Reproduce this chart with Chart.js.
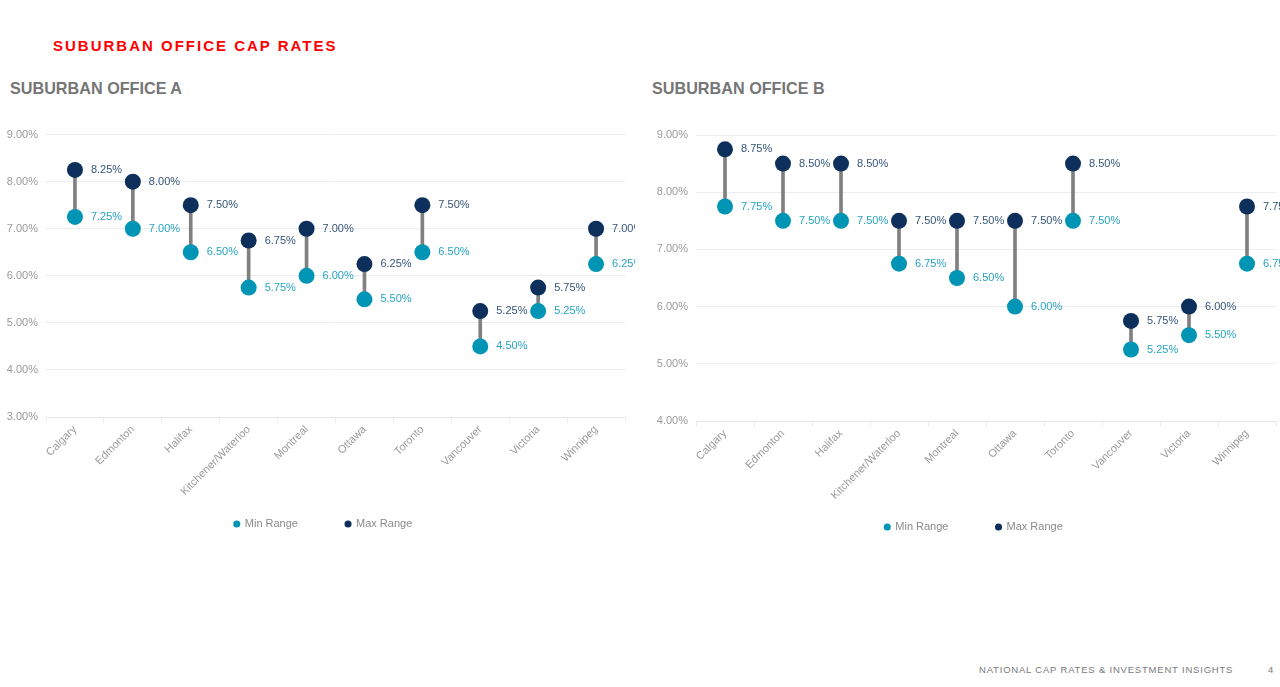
<!DOCTYPE html>
<html>
<head>
<meta charset="utf-8">
<script src="https://cdn.jsdelivr.net/npm/chart.js@4"></script>
<style>
  html, body { margin: 0; padding: 0; background: #fff; overflow: hidden; width: 1280px; height: 687px; }
  body { position: relative; font-family: "Liberation Sans", Arial, sans-serif; }
  .title { position: absolute; left: 53px; top: 37px; color: #ff0000; font-weight: bold; font-size: 15px; letter-spacing: 2px; }
  .sub { position: absolute; top: 79px; color: #767676; font-weight: bold; font-size: 16.2px; }
  .box { position: absolute; top: 120px; height: 440px; }
  .footer { position: absolute; top: 664px; left: 979px; color: #7a7a7a; font-size: 9.5px; letter-spacing: 0.8px; }
  .page { position: absolute; top: 664px; left: 1268px; color: #7a7a7a; font-size: 9.5px; }
</style>
</head>
<body>
<div class="title">SUBURBAN OFFICE CAP RATES</div>
<div class="sub" style="left:10px">SUBURBAN OFFICE A</div>
<div class="sub" style="left:652px">SUBURBAN OFFICE B</div>
<div class="box" style="left:0; width:635px"><canvas id="chartA"></canvas></div>
<div class="box" style="left:640px; width:660px"><canvas id="chartB"></canvas></div>
<div class="footer">NATIONAL CAP RATES &amp; INVESTMENT INSIGHTS</div>
<div class="page">4</div>
<script>
const cities = ['Calgary', 'Edmonton', 'Halifax', 'Kitchener/Waterloo', 'Montreal', 'Ottawa', 'Toronto', 'Vancouver', 'Victoria', 'Winnipeg'];

const minA = [7.25, 7.00, 6.50, 5.75, 6.00, 5.50, 6.50, 4.50, 5.25, 6.25];
const maxA = [8.25, 8.00, 7.50, 6.75, 7.00, 6.25, 7.50, 5.25, 5.75, 7.00];

const minB = [7.75, 7.50, 7.50, 6.75, 6.50, 6.00, 7.50, 5.25, 5.50, 6.75];
const maxB = [8.75, 8.50, 8.50, 7.50, 7.50, 7.50, 8.50, 5.75, 6.00, 7.75];

const navy = '#0c2f5c';
const teal = '#0095b4';
const font = '"Liberation Sans", Arial, sans-serif';

function pct(v) {
	return v.toFixed(2) + '%';
}

// draws the value next to each dot
const valueLabels = {
	id: 'valueLabels',
	afterDatasetsDraw(chart) {
		const ctx = chart.ctx;
		ctx.save();
		ctx.font = '11px ' + font;
		ctx.textAlign = 'left';
		ctx.textBaseline = 'middle';
		chart.data.datasets.forEach((ds, i) => {
			if (!ds.labelColor) return;
			ctx.fillStyle = ds.labelColor;
			chart.getDatasetMeta(i).data.forEach((pt, j) => {
				ctx.fillText(pct(ds.data[j]), pt.x + 16, pt.y);
			});
		});
		ctx.restore();
	}
};

function makeChart(id, mins, maxs, yMin, yWidth, xHeight, pad) {
	const ctx = document.getElementById(id).getContext('2d');
	new Chart(ctx, {
		type: 'bar',
		data: {
			labels: cities,
			datasets: [
				{
					label: 'range',
					data: mins.map((v, i) => [v, maxs[i]]),
					backgroundColor: '#808080',
					barThickness: 3,
					order: 3,
				},
				{
					type: 'line',
					label: 'Min Range',
					data: mins,
					showLine: false,
					pointStyle: 'circle',
					pointRadius: 8,
					pointHoverRadius: 8,
					pointBorderWidth: 0,
					backgroundColor: teal,
					borderColor: teal,
					pointBackgroundColor: teal,
					labelColor: '#26a4c2',
					order: 2,
				},
				{
					type: 'line',
					label: 'Max Range',
					data: maxs,
					showLine: false,
					pointStyle: 'circle',
					pointRadius: 8,
					pointHoverRadius: 8,
					pointBorderWidth: 0,
					backgroundColor: navy,
					borderColor: navy,
					pointBackgroundColor: navy,
					labelColor: '#36557a',
					order: 1,
				},
			],
		},
		options: {
			responsive: true,
			maintainAspectRatio: false,
			animation: false,
			layout: { padding: pad },
			plugins: {
				tooltip: { enabled: false },
				legend: {
					display: true,
					position: 'bottom',
					fullSize: false,
					labels: {
						filter: (item) => item.text !== 'range',
						sort: (a, b) => a.datasetIndex - b.datasetIndex,
						// wide gap between the entries, like the original legend
						generateLabels: (chart) => {
							const items = Chart.defaults.plugins.legend.labels.generateLabels(chart);
							items.forEach((it) => {
								if (it.text === 'Min Range') it.text = 'Min Range' + '\u00a0'.repeat(10);
								if (it.text === 'Max Range') it.text = 'Max Range' + '\u00a0'.repeat(8);
							});
							return items;
						},
						usePointStyle: true,
						boxWidth: 5,
						boxHeight: 5,
						padding: 17,
						color: '#8a8a8a',
						font: { family: font, size: 11 },
					},
				},
			},
			scales: {
				x: {
					grid: { display: true, drawOnChartArea: false, drawTicks: true, tickLength: 6, color: '#ececec' },
					border: { display: true, color: '#e6e6e6' },
					ticks: {
						color: '#9a9a9a',
						minRotation: 45,
						maxRotation: 45,
						padding: 0,
						font: { family: font, size: 11 },
					},
					afterFit: (scale) => { scale.height = xHeight; },
				},
				y: {
					min: yMin,
					max: 9,
					ticks: {
						stepSize: 1,
						padding: 8,
						color: '#9a9a9a',
						callback: (v) => pct(v),
						font: { family: font, size: 11 },
					},
					grid: { color: '#ececec', drawTicks: false },
					border: { display: false },
					afterFit: (scale) => { scale.width = yWidth; },
				},
			},
		},
		plugins: [valueLabels],
	});
}

document.addEventListener('DOMContentLoaded', function () {
	makeChart('chartA', minA, maxA, 3, 46, 84.5, { top: 14, right: 10, bottom: 20.5, left: 0 });
	makeChart('chartB', minB, maxB, 4, 56, 83.5, { top: 15, right: 24, bottom: 17.5, left: 0 });
});
</script>
</body>
</html>
